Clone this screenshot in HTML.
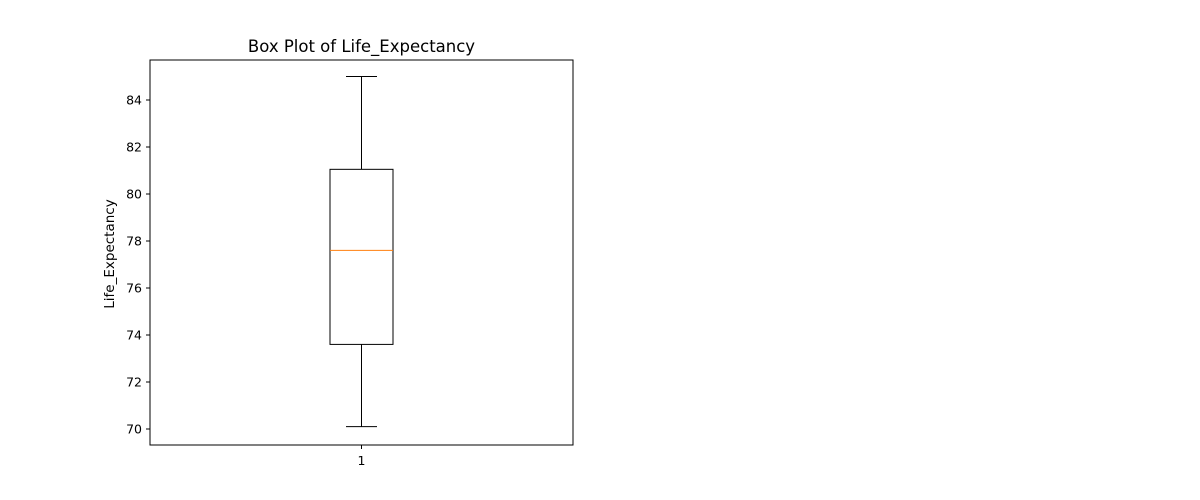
<!DOCTYPE html>
<html><head><meta charset="utf-8"><style>
body{margin:0;background:#fff;}
svg{display:block;font-family:"DejaVu Sans","Liberation Sans",sans-serif;}
</style></head><body>
<svg id="chart" width="1200" height="500"></svg>
<script>
const categories=["1"];
const whiskerLow=[70.1];
const q1Values=[73.6];
const medianValues=[77.6];
const q3Values=[81.05];
const whiskerHigh=[85.0];
const yTicks=[70,72,74,76,78,80,82,84];
const NS="http://www.w3.org/2000/svg";
const svg=document.getElementById('chart');
const L=150,R=573,T=60,B=445;
function y(v){return 429-(v-70)*23.5;}
function x(i){return 361.5;}
function mk(t,a,txt){const e=document.createElementNS(NS,t);for(const k in a)e.setAttribute(k,a[k]);if(txt!==undefined)e.textContent=txt;svg.appendChild(e);return e;}
let e;
e=mk('rect',{x:L,y:T,width:R-L,height:B-T,fill:'none',stroke:'#000','stroke-width':1});


yTicks.forEach(v=>{
 e=mk('line',{x1:L-4,x2:L,y1:y(v),y2:y(v),stroke:'#000'});
 
 
 e=mk('text',{x:L-8,y:y(v)+4.5,'text-anchor':'end','font-size':12.5},String(v));
 
 
});
categories.forEach((c,i)=>{
 const cx=x(i);
 e=mk('line',{x1:cx,x2:cx,y1:B,y2:B+4,stroke:'#000'});
 
 
 e=mk('text',{x:cx,y:B+20,'text-anchor':'middle','font-size':12.5},c);
 
 
 e=mk('line',{x1:cx,x2:cx,y1:y(q3Values[i]),y2:y(whiskerHigh[i]),stroke:'#000'});
 
 
 e=mk('line',{x1:cx,x2:cx,y1:y(q1Values[i]),y2:y(whiskerLow[i]),stroke:'#000'});
 
 
 e=mk('line',{x1:cx-15.5,x2:cx+15.5,y1:y(whiskerHigh[i]),y2:y(whiskerHigh[i]),stroke:'#000'});
 
 
 e=mk('line',{x1:cx-15.5,x2:cx+15.5,y1:y(whiskerLow[i]),y2:y(whiskerLow[i]),stroke:'#000'});
 
 
 e=mk('rect',{x:cx-31.5,y:y(q3Values[i]),width:63,height:y(q1Values[i])-y(q3Values[i]),fill:'none',stroke:'#000'});
 
 
 e=mk('line',{x1:cx-31.5,x2:cx+31.5,y1:y(medianValues[i]),y2:y(medianValues[i]),stroke:'#ff7f0e'});
 
 
});
e=mk('text',{x:(L+R)/2,y:52,'text-anchor':'middle','font-size':16.5},'Box Plot of Life_Expectancy');


e=mk('text',{x:0,y:0,'text-anchor':'middle','font-size':13.5,transform:'translate(114,254) rotate(-90)'},'Life_Expectancy');


</script>
</body></html>
